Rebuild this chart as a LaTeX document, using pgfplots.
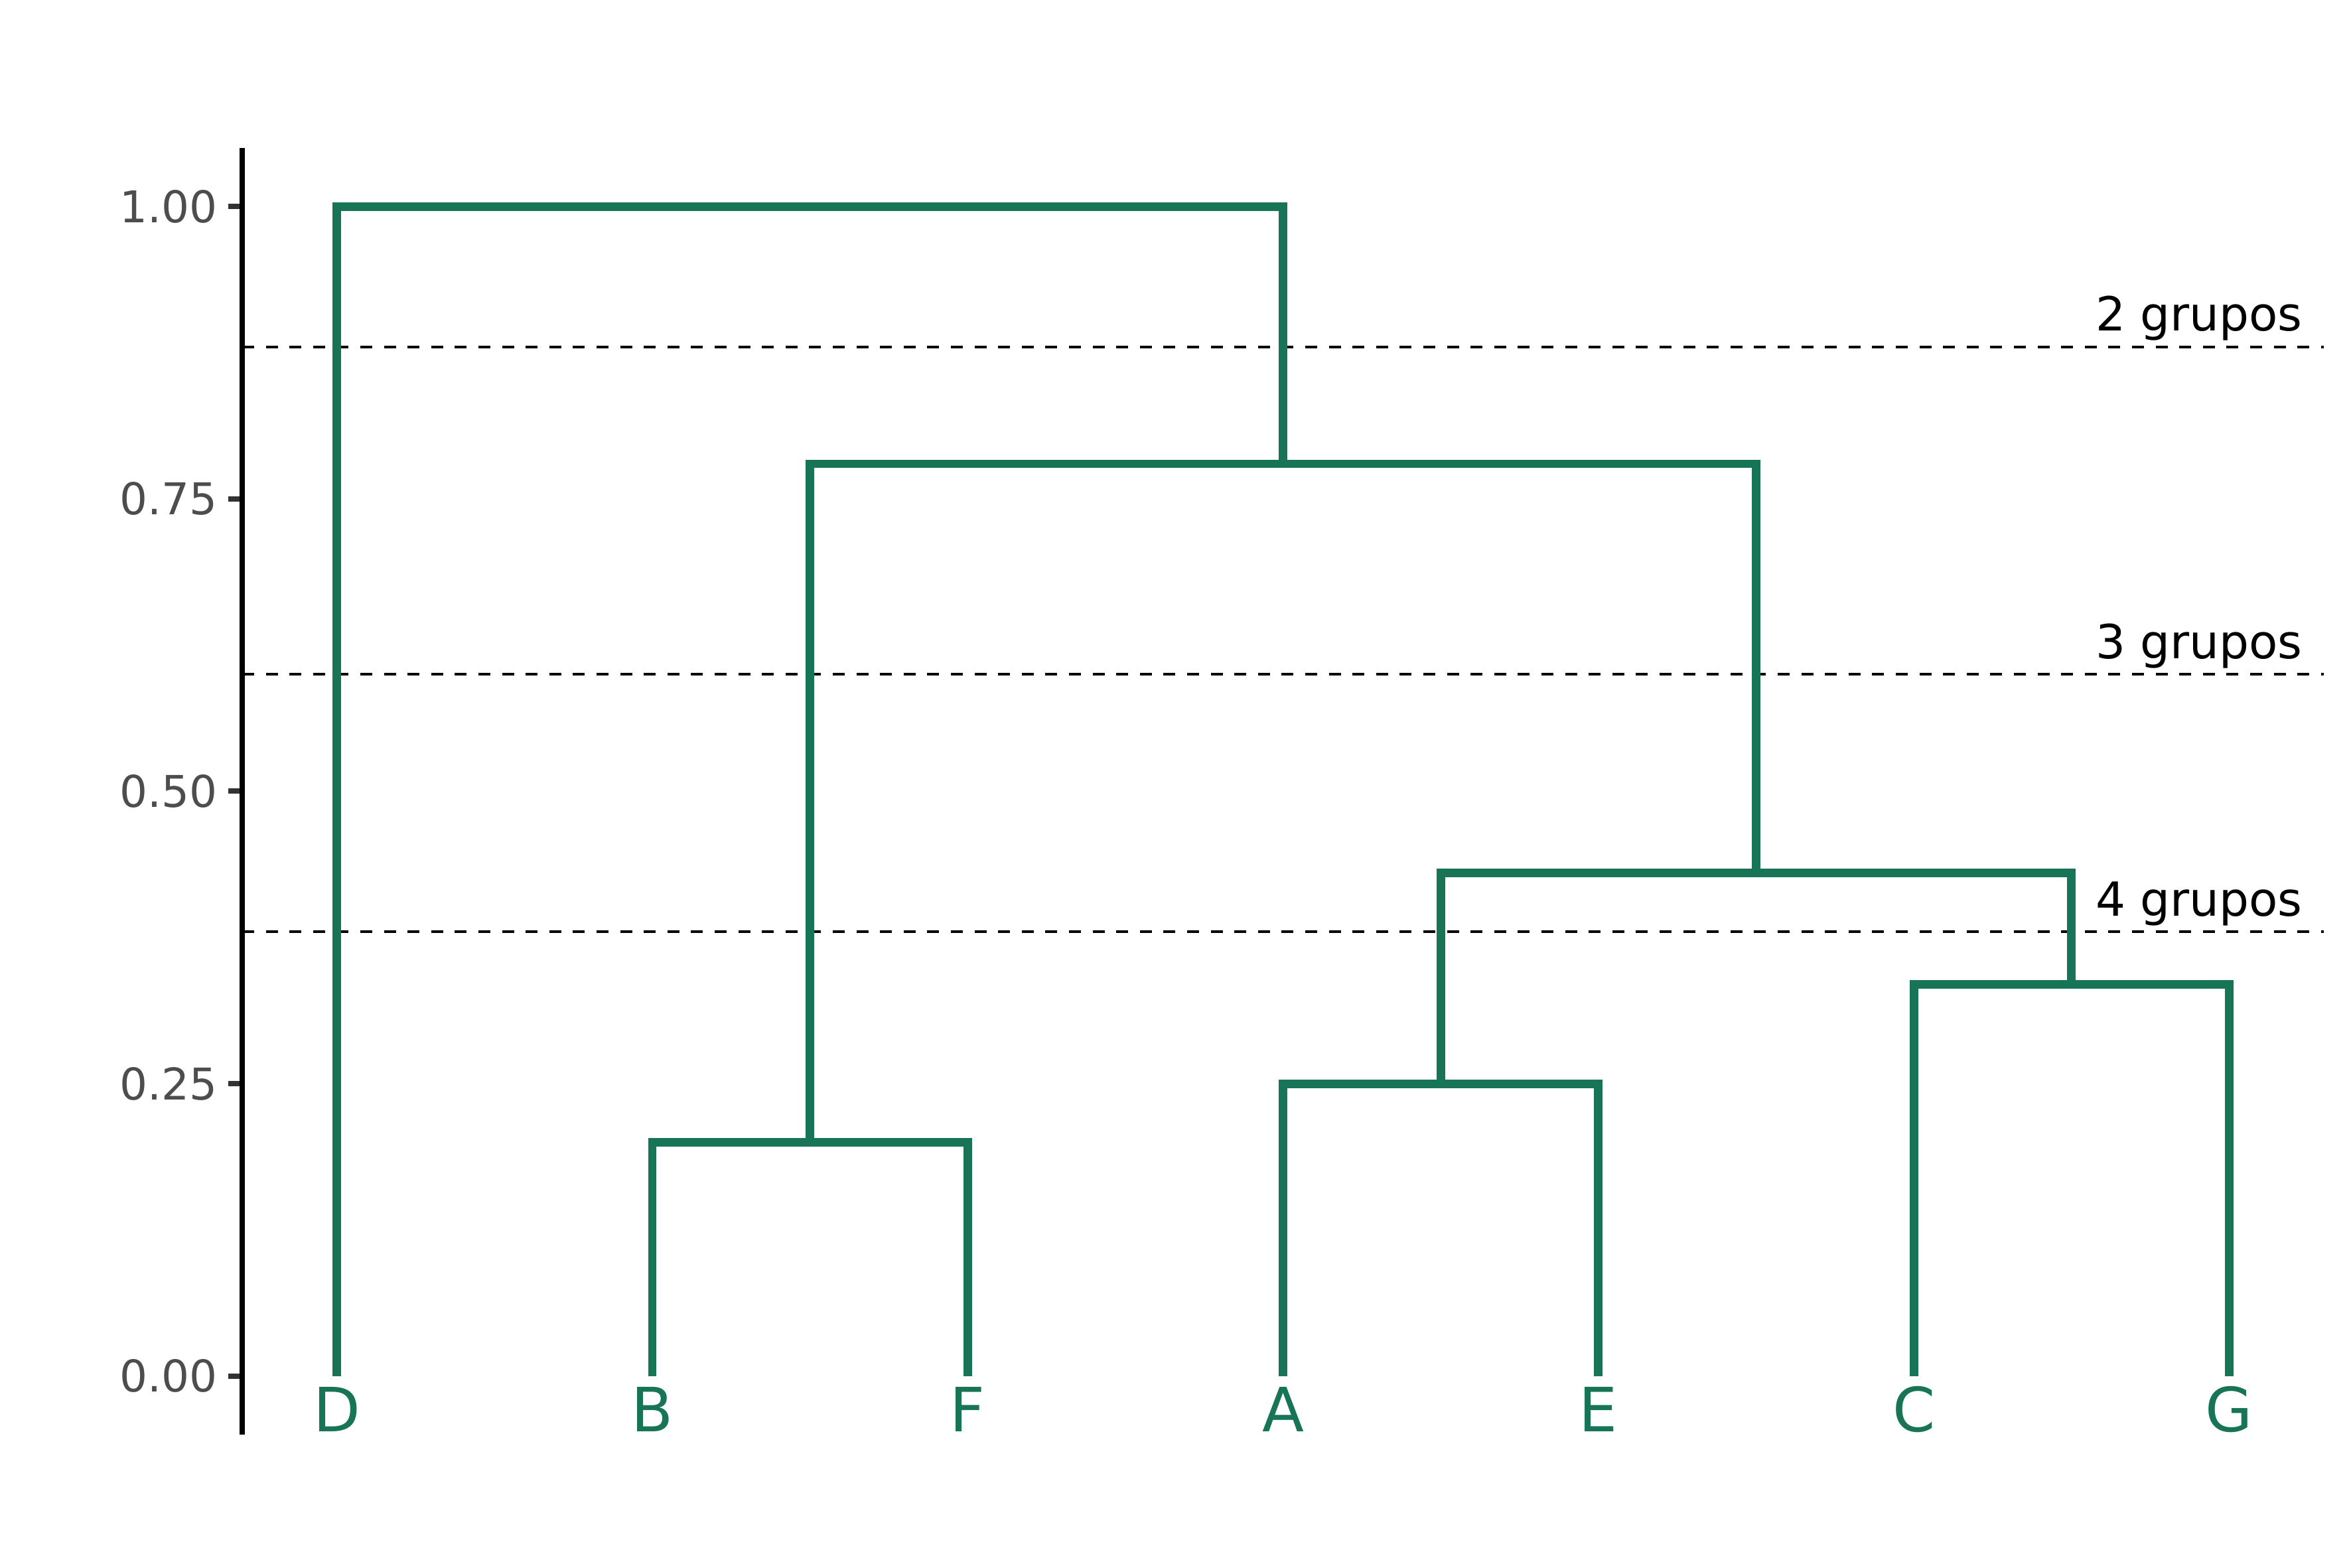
\documentclass[border=0pt]{standalone}
\usepackage{fontspec}
\setmainfont{DejaVu Sans}
\usepackage{pgfplots}
\pgfplotsset{compat=1.18}
\definecolor{dgreen}{RGB}{24,116,86}
\definecolor{tickgray}{RGB}{77,77,77}
\definecolor{tickmark}{RGB}{51,51,51}
\begin{document}
\begin{tikzpicture}
\begin{axis}[
  scale only axis,
  width=784.25pt, height=484.75pt,
  xmin=0.7, xmax=7.3, ymin=-0.05, ymax=1.05,
  axis x line=none,
  axis y line=left,
  y axis line style={-, black, line width=1.8pt},
  ytick={0,0.25,0.5,0.75,1},
  tick align=outside,
  major tick length=5.25pt,
  ytick style={tickmark, line width=2pt},
  yticklabel style={font=\fontsize{16.5}{19}\selectfont, text=tickgray, inner sep=0pt, xshift=-4pt},
  /pgf/number format/assume math mode=true,
  yticklabel={\pgfmathprintnumber[fixed, fixed zerofill, precision=2]{\tick}},
  clip=false,
]
% cut lines
\addplot[black, line width=1pt, dash pattern=on 4.5pt off 4.4pt] coordinates {(0.7,0.88) (7.3,0.88)};
\addplot[black, line width=1pt, dash pattern=on 4.5pt off 4.4pt] coordinates {(0.7,0.60) (7.3,0.60)};
\addplot[black, line width=1pt, dash pattern=on 4.5pt off 4.4pt] coordinates {(0.7,0.38) (7.3,0.38)};
\node[anchor=base east, font=\fontsize{17.7}{21}\selectfont, yshift=6pt] at (axis cs:7.262,0.88) {2 grupos};
\node[anchor=base east, font=\fontsize{17.7}{21}\selectfont, yshift=6pt] at (axis cs:7.262,0.60) {3 grupos};
\node[anchor=base east, font=\fontsize{17.7}{21}\selectfont, yshift=6pt] at (axis cs:7.262,0.38) {4 grupos};
% dendrogram
\addplot[dgreen, line width=3.2pt, mark=none] coordinates {(2,0) (2,0.20) (3,0.20) (3,0)};
\addplot[dgreen, line width=3.2pt, mark=none] coordinates {(4,0) (4,0.25) (5,0.25) (5,0)};
\addplot[dgreen, line width=3.2pt, mark=none] coordinates {(6,0) (6,0.335) (7,0.335) (7,0)};
\addplot[dgreen, line width=3.2pt, mark=none] coordinates {(4.5,0.25) (4.5,0.43) (6.5,0.43) (6.5,0.335)};
\addplot[dgreen, line width=3.2pt, mark=none] coordinates {(2.5,0.20) (2.5,0.78) (5.5,0.78) (5.5,0.43)};
\addplot[dgreen, line width=3.2pt, mark=none] coordinates {(1,0) (1,1.00) (4,1.00) (4,0.78)};
% leaf labels
\addplot[draw=none, mark=none, nodes near coords, point meta=explicit symbolic,
  every node near coord/.style={anchor=base, yshift=-21pt, inner sep=0pt, text=dgreen, font=\fontsize{23}{27}\selectfont}]
  table[meta=lab] {
x y lab
1 0 D
2 0 B
3 0 F
4 0 A
5 0 E
6 0 C
7 0 G
};
\path ([xshift=-91.25pt,yshift=-50pt]rel axis cs:0,0) rectangle ([xshift=10.25pt,yshift=55.75pt]rel axis cs:1,1);
\end{axis}
\end{tikzpicture}
\end{document}
